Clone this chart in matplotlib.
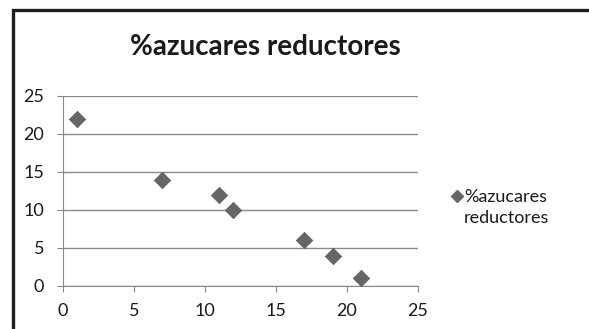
import numpy as np
import matplotlib.pyplot as plt
from matplotlib.patches import Rectangle
from matplotlib.lines import Line2D

plt.rcParams['font.family'] = ['Lato', 'DejaVu Sans']

# datos
x_vals = [1, 7, 11, 12, 17, 19, 21]
azucares = [22, 14, 12, 10, 6, 4, 1]
serie = '%azucares reductores'
leyenda = '%azucares\nreductores'

fig = plt.figure(figsize=(5.89, 3.29), dpi=100)
fig.patch.set_facecolor('white')

# marco negro del grafico (sale por la derecha y abajo)
fig.patches.append(Rectangle((12.5/589, -0.1), 1.2, 1 - 9.5/329 + 0.1,
                             transform=fig.transFigure, fill=False,
                             edgecolor='#1e1e1e', lw=2.4, zorder=10))

ax = fig.add_axes([63/589, 1 - 286/329, (418 - 63)/589, (286 - 96)/329])
ax.scatter(x_vals, azucares, marker='D', s=70, color='#666666',
           edgecolors='#5a5a5a', linewidths=0.5, zorder=3)

ax.set_xlim(0, 25)
ax.set_ylim(0, 25)
ax.set_xticks([0, 5, 10, 15, 20, 25])
ax.set_yticks([0, 5, 10, 15, 20, 25])
ax.yaxis.grid(True, color='#8a8a8a', lw=1)
ax.set_axisbelow(True)
for s in ['top', 'right']:
    ax.spines[s].set_visible(False)
for s in ['left', 'bottom']:
    ax.spines[s].set_color('#8a8a8a')
ax.tick_params(axis='both', colors='#8a8a8a', labelcolor='#1a1a1a',
               labelsize=13, length=4.5, direction='out')
ax.tick_params(axis='x', pad=8)
ax.tick_params(axis='y', pad=9)

fig.text(265/589, 1 - 47/329, serie, ha='center', va='center',
         fontsize=20, fontweight='bold', color='#1a1a1a')

# leyenda (marcador alineado con la primera linea, como en excel)
fig.add_artist(Line2D([457/589], [1 - 196/329], marker='D', ls='none',
                      color='#666666', markersize=6,
                      transform=fig.transFigure))
fig.text(464/589, 1 - 189/329, leyenda, ha='left', va='top',
         fontsize=13, color='#1a1a1a', linespacing=1.4)

fig.savefig('out.png', dpi=100)
